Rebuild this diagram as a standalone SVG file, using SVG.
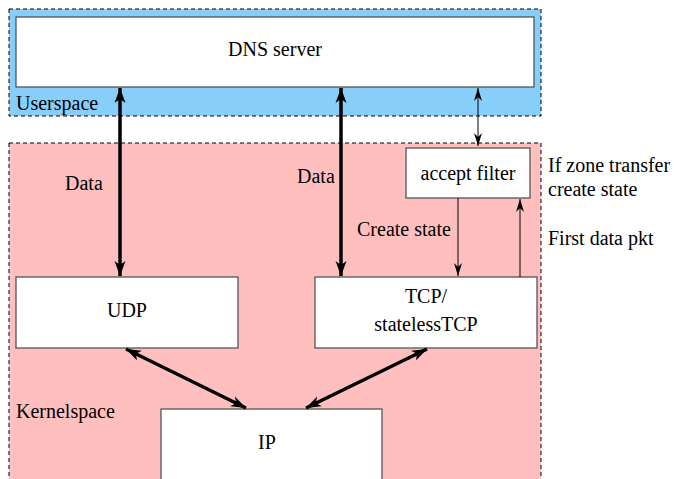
<svg xmlns="http://www.w3.org/2000/svg" width="674" height="479" viewBox="0 0 674 479">
<style>
text{font-family:'Liberation Serif','DejaVu Serif','Times New Roman',serif;font-size:20px;fill:#000}
.box{fill:#fff;stroke:#555;stroke-width:1.3}
.zone{stroke:#000;stroke-width:1;stroke-dasharray:4 3}
.thick{stroke:#000;stroke-width:3.5;fill:none}
.thin{stroke:#000;stroke-width:1;fill:none}
</style>
<defs>
<marker id="hb" markerUnits="userSpaceOnUse" viewBox="-16 -7 18 14" refX="0" refY="0" markerWidth="18" markerHeight="14" orient="auto-start-reverse">
<path d="M0,0 L-15,-5.5 L-11,0 L-15,5.5 Z" fill="#000"/>
</marker>
<marker id="ht" markerUnits="userSpaceOnUse" viewBox="-14 -6 16 12" refX="0" refY="0" markerWidth="16" markerHeight="12" orient="auto-start-reverse">
<path d="M0,0 L-13,-4 L-9,0 L-13,4 Z" fill="#000"/>
</marker>
</defs>
<g id="userspace">
<rect class="zone" x="9" y="9" width="532" height="107" fill="#87cefa"/>
<text x="16" y="110" font-family="Liberation Serif, serif">Userspace</text>
</g>
<g id="kernelspace">
<rect class="zone" x="9" y="143" width="532" height="345" fill="#ffbfbf"/>
<text x="16" y="418">Kernelspace</text>
</g>
<g id="dns">
<rect class="box" x="16" y="17" width="518" height="70"/>
<text x="275" y="56" text-anchor="middle">DNS server</text>
</g>
<g id="accept">
<rect class="box" x="406" y="148" width="124" height="50"/>
<text x="468" y="180" text-anchor="middle">accept filter</text>
</g>
<g id="udp">
<rect class="box" x="16" y="277" width="222" height="71"/>
<text x="127" y="317" text-anchor="middle">UDP</text>
</g>
<g id="tcp">
<rect class="box" x="315" y="277" width="222" height="71"/>
<text x="426" y="303" text-anchor="middle">TCP/</text>
<text x="426" y="331" text-anchor="middle">statelessTCP</text>
</g>
<g id="ip">
<rect class="box" x="161" y="409" width="221" height="80"/>
<text x="267" y="449" text-anchor="middle">IP</text>
</g>
<g id="connectors">
<line class="thick" x1="120" y1="88" x2="120" y2="276" marker-start="url(#hb)" marker-end="url(#hb)"/>
<line class="thick" x1="341" y1="88" x2="341" y2="276" marker-start="url(#hb)" marker-end="url(#hb)"/>
<line class="thin" x1="478" y1="88" x2="478" y2="146" marker-start="url(#ht)" marker-end="url(#ht)"/>
<line class="thin" x1="458" y1="198" x2="458" y2="276" marker-end="url(#ht)"/>
<line class="thin" x1="520" y1="277" x2="520" y2="199" marker-end="url(#ht)"/>
<line class="thick" x1="126" y1="349" x2="246" y2="408" marker-start="url(#hb)" marker-end="url(#hb)"/>
<line class="thick" x1="427" y1="349" x2="306" y2="408" marker-start="url(#hb)" marker-end="url(#hb)"/>
</g>
<g id="labels">
<text x="65" y="190">Data</text>
<text x="297" y="183">Data</text>
<text x="357" y="236">Create state</text>
<text x="548" y="172">If zone transfer</text>
<text x="548" y="196">create state</text>
<text x="548" y="245">First data pkt</text>
</g>
</svg>
